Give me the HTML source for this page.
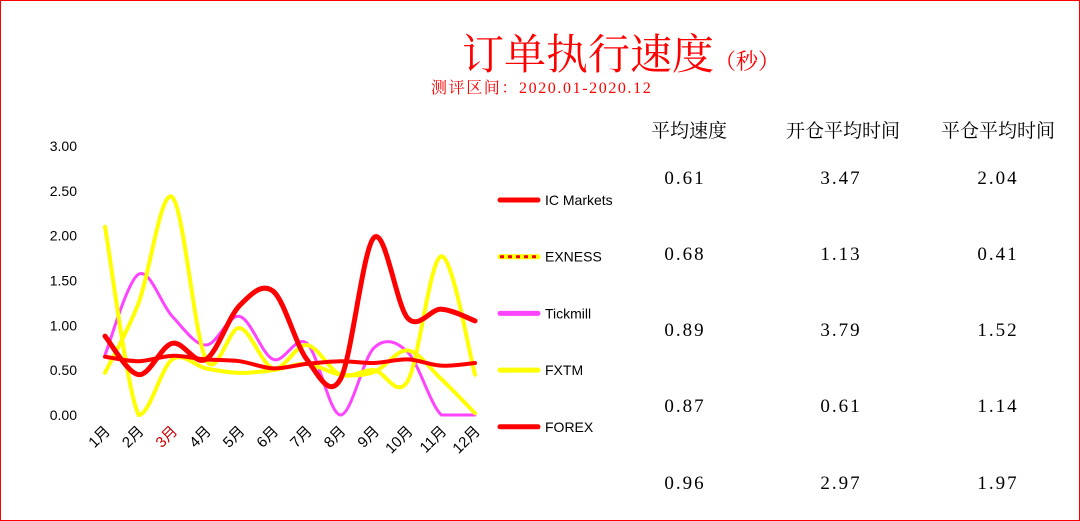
<!DOCTYPE html>
<html><head><meta charset="utf-8"><style>
body{margin:0;width:1080px;height:521px;background:#fff;overflow:hidden;font-family:"Liberation Sans","Noto Sans CJK SC",sans-serif}
#frame{position:absolute;left:0;top:0;width:1078px;height:519px;border:1px solid #f00}
.t{position:absolute;white-space:nowrap}
.h{font-family:"Liberation Serif","Noto Serif CJK SC",serif;font-size:19px;color:#000}
.v{font-family:"Liberation Serif","Noto Serif CJK SC",serif;font-size:19px;letter-spacing:2px;color:#000;text-align:center;width:120px}
</style></head><body>
<div id="frame"></div>
<div class="t" style="left:462px;top:22px;font-family:'Liberation Serif','Noto Serif CJK SC',serif;font-size:42px;color:#f00">订单执行速度<span style="font-size:22px">（秒）</span></div>
<div class="t" style="left:431px;top:75px;font-family:'Liberation Serif','Noto Serif CJK SC',serif;font-size:16px;letter-spacing:1.6px;color:#f00">测评区间：2020.01-2020.12</div>

<div class="t h" style="left:651px;top:116px">平均速度</div>
<div class="t h" style="left:786px;top:116px">开仓平均时间</div>
<div class="t h" style="left:941px;top:116px">平仓平均时间</div>
<div id="table"></div>

<svg id="chart" width="1080" height="521" style="position:absolute;left:0;top:0"></svg>
<script>
const months=["1月","2月","3月","4月","5月","6月","7月","8月","9月","10月","11月","12月"];
const yTicks=[0,0.5,1,1.5,2,2.5,3];
const seriesNames=["IC Markets","EXNESS","Tickmill","FXTM","FOREX"];
const icMarkets=[0.65,0.60,0.66,0.62,0.60,0.52,0.57,0.60,0.58,0.62,0.55,0.58];
const exness=[2.10,0.00,0.62,0.52,0.47,0.50,0.57,0.45,0.48,0.72,0.40,0.02];
const tickmill=[0.67,1.57,1.10,0.78,1.10,0.62,0.80,0.00,0.75,0.70,0.00,0.00];
const fxtm=[0.47,1.25,2.43,0.62,0.97,0.52,0.78,0.45,0.50,0.38,1.77,0.45];
const forex=[0.88,0.45,0.80,0.62,1.22,1.38,0.62,0.40,1.98,1.08,1.18,1.05];
const avgSpeed=["0.61","0.68","0.89","0.87","0.96"];
const openTime=["3.47","1.13","3.79","0.61","2.97"];
const closeTime=["2.04","0.41","1.52","1.14","1.97"];

const NS="http://www.w3.org/2000/svg";
const svg=document.getElementById('chart');
const x0=105,x1=475,yb=415,yt=146;
const xS=i=>x0+i*(x1-x0)/(months.length-1);
const yS=v=>yb-(v/3)*(yb-yt);
function mk(tag,at){const e=document.createElementNS(NS,tag);for(const k in at)e.setAttribute(k,at[k]);svg.appendChild(e);return e;}
yTicks.forEach(v=>{const t=mk('text',{x:77,y:yS(v)+5,'text-anchor':'end','font-size':14,fill:'#000','font-family':'Liberation Sans,sans-serif'});


t.textContent=v.toFixed(2);});
months.forEach((m,i)=>{const x=xS(i)+6,y=432;const t=mk('text',{x:x,y:y,'text-anchor':'end','font-size':15,fill:i==2?'#c00':'#000',transform:`rotate(-45 ${x} ${y})`,'font-family':'Liberation Sans,Noto Sans CJK SC,sans-serif'});


t.textContent=m;});
const cl=y=>Math.min(yb,y);
function path(vals){const p=vals.map((v,i)=>[xS(i),yS(v)]);let d=`M${p[0][0]},${p[0][1]}`;
for(let i=0;i<p.length-1;i++){const a=p[Math.max(0,i-1)],b=p[i],c=p[i+1],e=p[Math.min(p.length-1,i+2)];
d+=` C${b[0]+(c[0]-a[0])/6},${cl(b[1]+(c[1]-a[1])/6)} ${c[0]-(e[0]-b[0])/6},${cl(c[1]-(e[1]-b[1])/6)} ${c[0]},${c[1]}`;}return d;}
const styles=[{c:'#f00',w:4},{c:'#ffff00',w:4},{c:'#ff44ff',w:3},{c:'#ffff00',w:4},{c:'#f00',w:5}];
const data=[icMarkets,exness,tickmill,fxtm,forex];
const order=[2,1,3,0,4];
order.forEach(k=>{const p=mk('path',{d:path(data[k]),fill:'none',stroke:styles[k].c,'stroke-width':styles[k].w,'stroke-linecap':'round'});

});
seriesNames.forEach((n,k)=>{const y=200+k*56.7;
const l=mk('line',{x1:500,x2:538,y1:y,y2:y,stroke:styles[k].c,'stroke-width':5,'stroke-linecap':'round'});


if(k==1){const d=mk('line',{x1:500,x2:538,y1:y,y2:y,stroke:'#e00','stroke-width':3,'stroke-dasharray':'4 4'});}
const t=mk('text',{x:545,y:y+5,'font-size':14,fill:'#000','font-family':'Liberation Sans,sans-serif'});


t.textContent=n;});
const tb=document.getElementById('table');
const cols=[[avgSpeed,625],[openTime,781],[closeTime,938]];
const rowsY=[168,244,320,396,473];
cols.forEach(([arr,x])=>arr.forEach((v,r)=>{const d=document.createElement('div');d.className='t v';d.style.left=x+'px';d.style.top=rowsY[r]+'px';


d.textContent=v;tb.appendChild(d);}));
</script>
</body></html>
